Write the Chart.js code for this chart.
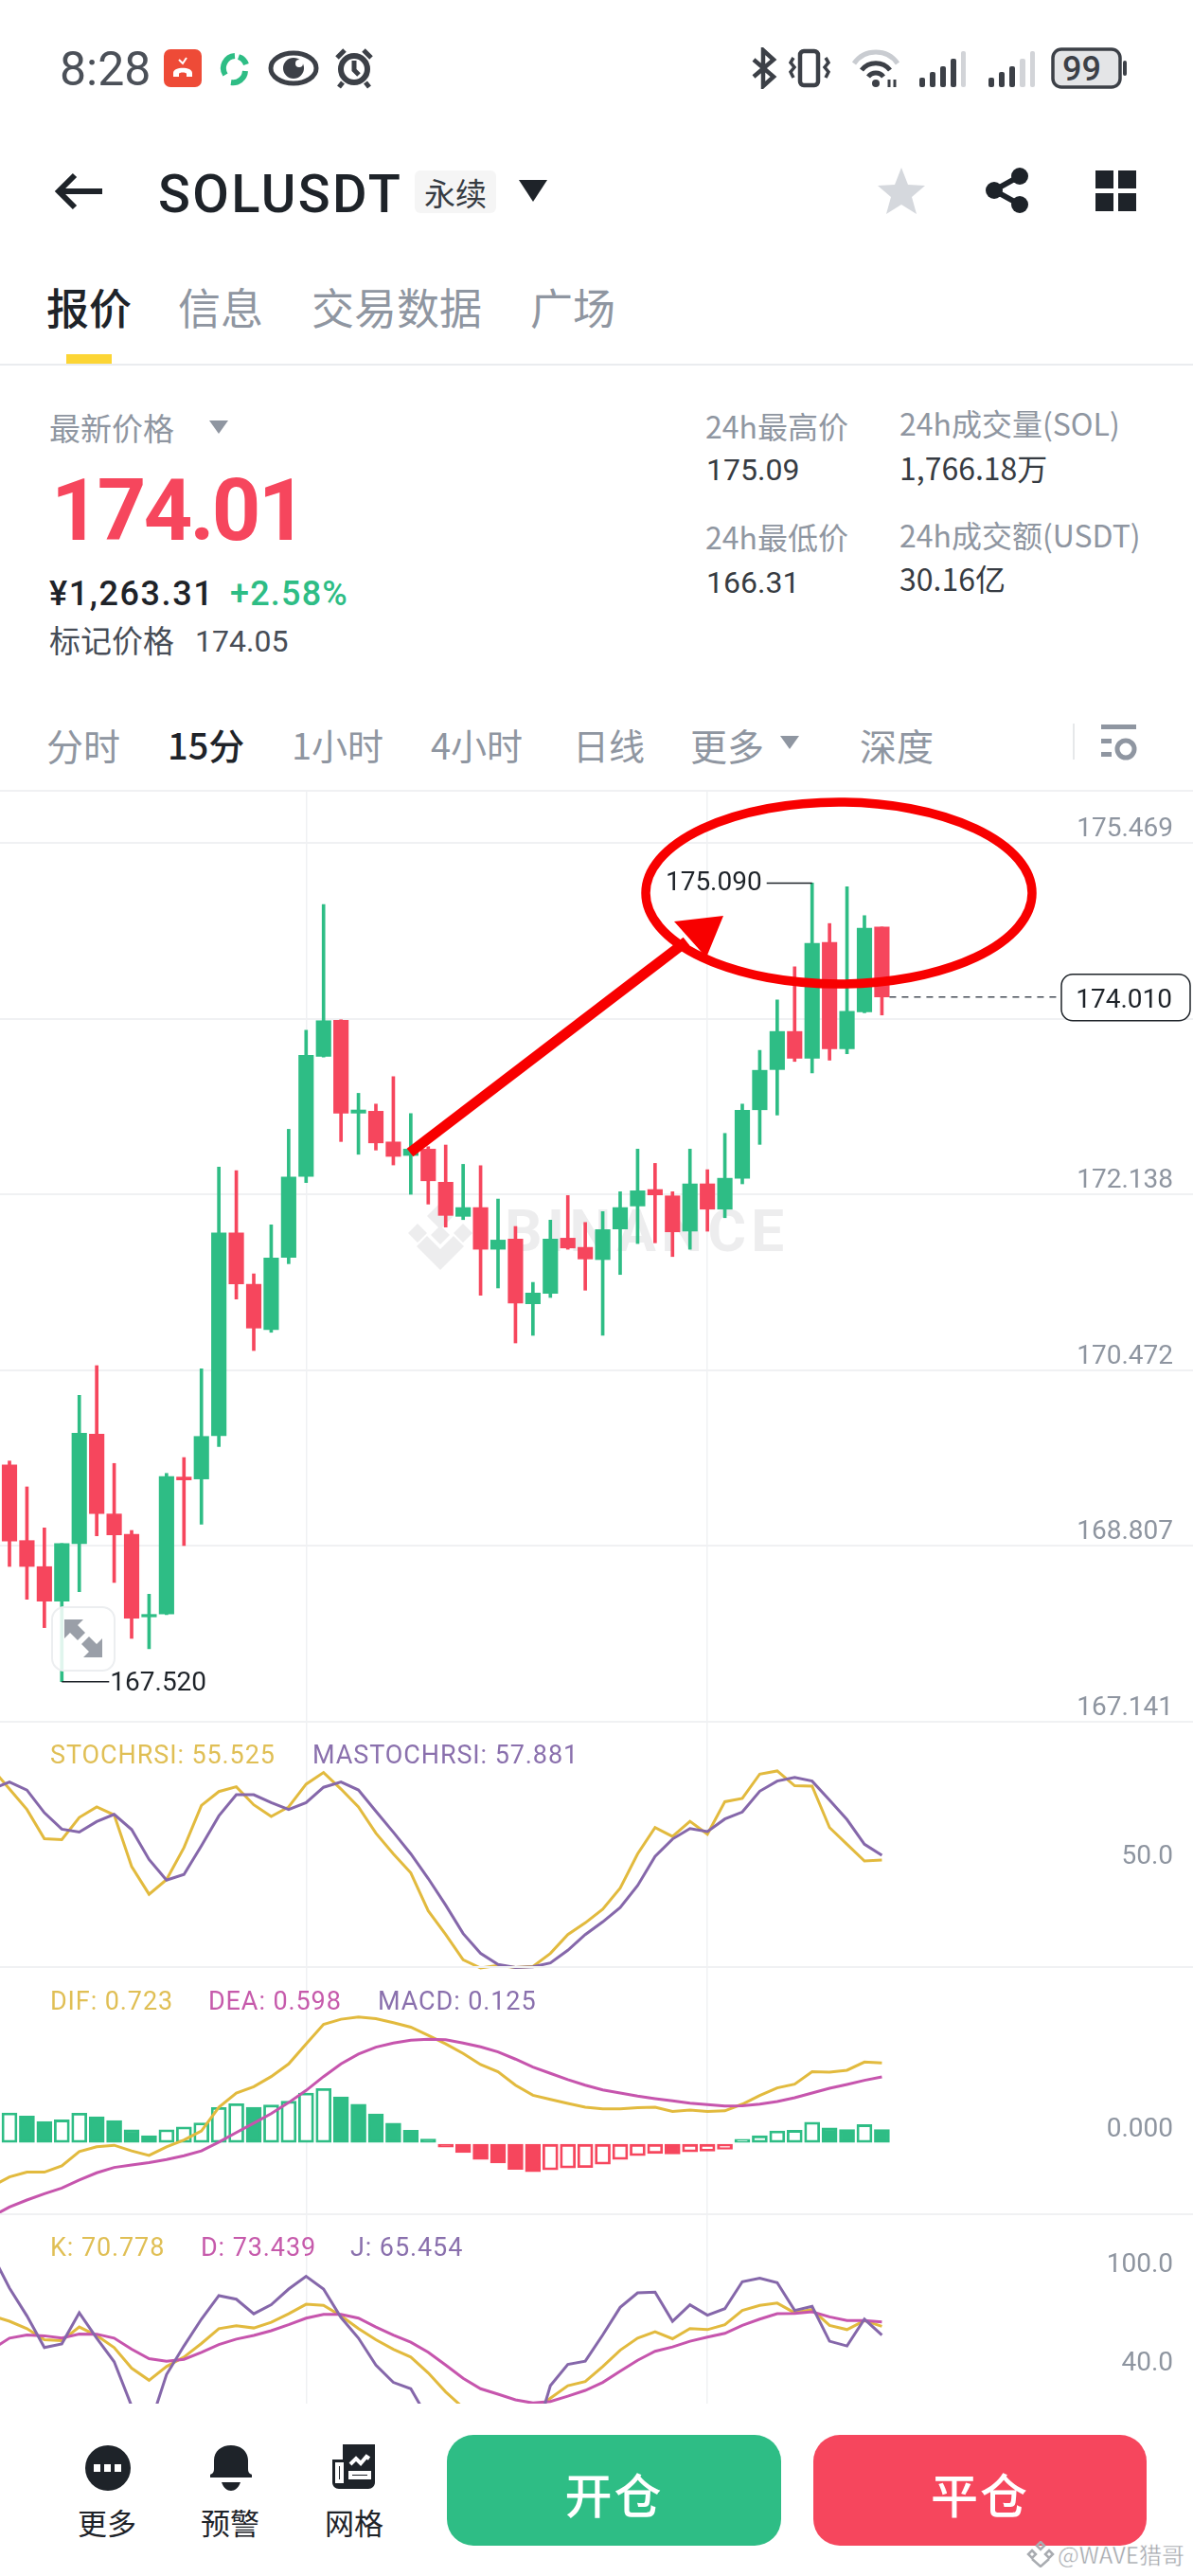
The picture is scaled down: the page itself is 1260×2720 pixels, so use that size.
<!DOCTYPE html>
<html lang="zh-CN">
<head>
<meta charset="utf-8">
<title>SOLUSDT 永续</title>
<script src="https://cdn.jsdelivr.net/npm/chart.js@4/dist/chart.umd.min.js"></script>
<style>
html, body { margin: 0; padding: 0; background: #fff; }
#page { position: relative; width: 1260px; height: 2720px; overflow: hidden; font-family: Roboto, "Noto Sans CJK SC", sans-serif; color: #1e2329; }
.t { position: absolute; white-space: nowrap; line-height: 1; transform: translateY(-50%); }
.cjk { font-family: "Noto Sans CJK SC", Roboto, sans-serif; }
.grey { color: #8f96a1; }
.cap { font-size: 27px; letter-spacing: .9px; }
canvas, svg { position: absolute; display: block; }
.rule { position: absolute; left: 0; width: 1260px; }
.btn { position: absolute; top: 2571px; height: 117px; border-radius: 28px; color: #fff; font-size: 50px; line-height: 122px; text-align: center; font-family: "Noto Sans CJK SC", sans-serif; font-weight: 500; letter-spacing: 2px; }
</style>
</head>
<body>
<div id="page">

  <!-- status bar -->
  <div class="t" style="left:63px;top:73px;font-size:50px;color:#4b5058;font-weight:400">8:28</div>
  <svg style="left:172px;top:50px" width="225" height="44" viewBox="0 0 225 44">
    <rect x="1" y="2" width="40" height="40" rx="7" fill="#ee4b37"/>
    <path d="M11 31v-4c0-7 20-7 20 0v4h-6v-3c0-2-8-2-8 0v3z" fill="#fff"/>
    <path d="M17 13l4 4 4-6" stroke="#fff" stroke-width="2" fill="none"/>
    <path d="M76 9a13 13 0 0 0-10 20M72 37a13 13 0 0 0 15-12M88 18a13 13 0 0 0-8-8" stroke="#2ebd85" stroke-width="6" fill="none"/>
    <ellipse cx="138" cy="22" rx="24" ry="16" fill="none" stroke="#3c4047" stroke-width="5"/>
    <circle cx="138" cy="22" r="11" fill="#3c4047"/><circle cx="144" cy="17" r="4" fill="#fff"/>
    <circle cx="202" cy="23" r="14" fill="none" stroke="#3c4047" stroke-width="6"/>
    <path d="M202 14v10l5 5" stroke="#3c4047" stroke-width="5" fill="none"/>
    <path d="M184 11l8-8M220 11l-8-8M190 37l-4 5M214 37l4 5" stroke="#3c4047" stroke-width="5"/>
  </svg>
  <svg style="left:792px;top:50px" width="400" height="44" viewBox="0 0 400 44">
    <path d="M4 13l21 18-11 10V3l11 10L4 31" fill="none" stroke="#3c4047" stroke-width="4.5"/>
    <rect x="53" y="4" width="19" height="36" rx="4" fill="none" stroke="#3c4047" stroke-width="4.5"/>
    <path d="M46 11l-3 5 4 5-4 5 3 6M80 11l3 5-4 5 4 5-3 6" fill="none" stroke="#3c4047" stroke-width="3.5"/>
    <path d="M110 17a28 28 0 0 1 46 0" fill="none" stroke="#c9ccd1" stroke-width="5"/>
    <path d="M118 24a19 19 0 0 1 30 0" fill="none" stroke="#3c4047" stroke-width="5"/>
    <path d="M125 31a10 10 0 0 1 16 0" fill="none" stroke="#3c4047" stroke-width="5"/>
    <circle cx="133" cy="38" r="4" fill="#3c4047"/>
    <path d="M147 34v8M153 34v8" stroke="#3c4047" stroke-width="3"/>
    <g fill="#3c4047">
      <rect x="179" y="32" width="6" height="10" rx="2"/><rect x="190" y="26" width="6" height="16" rx="2"/><rect x="201" y="20" width="6" height="22" rx="2"/><rect x="212" y="12" width="6" height="30" rx="2"/>
      <rect x="252" y="32" width="6" height="10" rx="2"/><rect x="263" y="26" width="6" height="16" rx="2"/><rect x="274" y="20" width="6" height="22" rx="2"/>
    </g>
    <rect x="223" y="4" width="5" height="38" rx="2" fill="#d2d4d8"/>
    <rect x="285" y="12" width="6" height="30" rx="2" fill="#d2d4d8"/><rect x="296" y="4" width="5" height="38" rx="2" fill="#d2d4d8"/>
    <rect x="320" y="2" width="71" height="40" rx="9" fill="#e4e5e7" stroke="#3c4047" stroke-width="3.5"/>
    <rect x="394" y="14" width="4" height="16" rx="2" fill="#3c4047"/>
  </svg>
  <div class="t" style="left:1122px;top:73px;font-size:36px;font-weight:500;color:#3c4047">99</div>

  <!-- title row -->
  <svg style="left:56px;top:182px" width="54" height="40" viewBox="0 0 54 40">
    <path d="M52 20H8M23 3L6 20l17 17" fill="none" stroke="#1e2329" stroke-width="6"/>
  </svg>
  <div class="t" style="left:167px;top:205px;font-size:56px;font-weight:500;letter-spacing:2.4px">SOLUSDT</div>
  <div style="position:absolute;left:438px;top:180px;width:86px;height:45px;background:#f5f5f5;border-radius:6px"></div>
  <div class="t cjk" style="left:448px;top:203px;font-size:33px;color:#363b42">永续</div>
  <svg style="left:546px;top:188px" width="34" height="26"><path d="M2 2h30L17 25z" fill="#1e2329"/></svg>
  <svg style="left:926px;top:176px" width="52" height="50" viewBox="0 0 52 50">
    <path d="M26 1l7 18 18 1-14 12 5 18-16-10-16 10 5-18L1 20l18-1z" fill="#d5d8dd"/>
  </svg>
  <svg style="left:1038px;top:176px" width="52" height="50" viewBox="0 0 52 50">
    <path d="M39 10L12 25l27 15" fill="none" stroke="#1e2329" stroke-width="6"/>
    <circle cx="39" cy="10" r="9" fill="#1e2329"/><circle cx="12" cy="25" r="9" fill="#1e2329"/><circle cx="39" cy="40" r="9" fill="#1e2329"/>
  </svg>
  <svg style="left:1156px;top:180px" width="46" height="44" viewBox="0 0 46 44" fill="#1e2329">
    <rect x="1" y="0" width="19" height="19"/><rect x="25" y="0" width="19" height="19"/><rect x="1" y="24" width="19" height="19"/><rect x="25" y="24" width="19" height="19"/>
  </svg>

  <!-- tabs -->
  <div class="t cjk" style="left:49px;top:323px;font-size:45px;font-weight:500">报价</div>
  <div class="t cjk grey" style="left:188px;top:323px;font-size:45px">信息</div>
  <div class="t cjk grey" style="left:329px;top:323px;font-size:45px">交易数据</div>
  <div class="t cjk grey" style="left:560px;top:323px;font-size:45px">广场</div>
  <div style="position:absolute;left:70px;top:374px;width:48px;height:10px;background:#fcd535"></div>
  <div class="rule" style="top:384px;height:2px;background:#eaecef"></div>

  <!-- price block -->
  <div class="t cjk grey" style="left:52px;top:451px;font-size:33px">最新价格</div>
  <svg style="left:220px;top:443px" width="22" height="16"><path d="M1 1h20L11 15z" fill="#8f96a1"/></svg>
  <div class="t" style="left:54px;top:540px;font-size:90px;font-weight:700;color:#f6465d;letter-spacing:-2.8px">174.01</div>
  <div class="t" style="left:52px;top:627px;font-size:36px;font-weight:500;letter-spacing:1.6px">¥1,263.31</div>
  <div class="t" style="left:243px;top:627px;font-size:36px;font-weight:500;color:#2ebd85;letter-spacing:1.2px">+2.58%</div>
  <div class="t cjk" style="left:52px;top:675px;font-size:33px;color:#474d57">标记价格</div>
  <div class="t" style="left:206px;top:677px;font-size:32px;color:#474d57">174.05</div>

  <div class="t cjk grey" style="left:745px;top:449px;font-size:32px">24h最高价</div>
  <div class="t" style="left:746px;top:496px;font-size:32px;color:#363b42">175.09</div>
  <div class="t cjk grey" style="left:745px;top:566px;font-size:32px">24h最低价</div>
  <div class="t" style="left:746px;top:615px;font-size:32px;color:#363b42">166.31</div>
  <div class="t cjk grey" style="left:950px;top:446px;font-size:32px">24h成交量(SOL)</div>
  <div class="t cjk" style="left:950px;top:493px;font-size:32px;color:#363b42">1,766.18万</div>
  <div class="t cjk grey" style="left:950px;top:564px;font-size:32px">24h成交额(USDT)</div>
  <div class="t cjk" style="left:950px;top:610px;font-size:32px;color:#363b42">30.16亿</div>

  <!-- interval row -->
  <div class="t cjk grey" style="left:49px;top:786px;font-size:39px">分时</div>
  <div class="t cjk" style="left:177px;top:786px;font-size:38px;font-weight:500">15分</div>
  <div class="t cjk grey" style="left:308px;top:786px;font-size:38px">1小时</div>
  <div class="t cjk grey" style="left:455px;top:786px;font-size:38px">4小时</div>
  <div class="t cjk grey" style="left:605px;top:786px;font-size:38px">日线</div>
  <div class="t cjk grey" style="left:729px;top:786px;font-size:39px">更多</div>
  <svg style="left:823px;top:776px" width="22" height="16"><path d="M1 1h20L11 15z" fill="#8f96a1"/></svg>
  <div class="t cjk grey" style="left:908px;top:786px;font-size:39px">深度</div>
  <div style="position:absolute;left:1133px;top:764px;width:2px;height:38px;background:#e6e8ea"></div>
  <svg style="left:1162px;top:764px" width="40" height="40" viewBox="0 0 40 40" fill="#8f96a1">
    <rect x="1" y="1" width="37" height="5"/><rect x="1" y="16" width="11" height="5"/><rect x="1" y="30" width="11" height="5"/>
    <circle cx="27" cy="27" r="9" fill="none" stroke="#8f96a1" stroke-width="5"/>
  </svg>

  <!-- watermark under the candles -->
  <svg style="left:426px;top:1270px" width="78" height="72" viewBox="0 0 78 72" fill="#ededee">
    <path d="M39 0l14 14-14 14-14-14zM15 22l10 10-10 10L5 32zM63 22l10 10-10 10-10-10zM39 24l10 10-10 10-10-10zM2 36"/>
    <path d="M14 46l11-11 14 14 14-14 11 11-25 25z"/>
  </svg>
  <div class="t" style="left:533px;top:1300px;font-size:62px;font-weight:700;color:#ededee;letter-spacing:5.4px">BINANCE</div>

  <canvas id="priceChart" width="1260" height="987" style="left:0;top:833px;width:1260px;height:987px"></canvas>
  <canvas id="stochChart" width="1260" height="264" style="left:0;top:1816px;width:1260px;height:264px"></canvas>
  <canvas id="macdChart" width="1260" height="265" style="left:0;top:2075px;width:1260px;height:265px"></canvas>
  <canvas id="kdjChart" width="1260" height="204" style="left:0;top:2336px;width:1260px;height:204px"></canvas>

  <!-- hand-drawn red marks on top of the screenshot -->
  <svg style="left:0;top:0" width="1260" height="1300" viewBox="0 0 1260 1300">
    <path d="M433 1217L725 994" stroke="#f80000" stroke-width="11" fill="none"/>
    <path d="M764 967L712 973L746 1011z" fill="#f80000"/>
    <ellipse cx="886" cy="943" rx="204" ry="96" fill="none" stroke="#f80000" stroke-width="9.5"/>
  </svg>

  <!-- expand button -->
  <div style="position:absolute;left:54px;top:1696px;width:64px;height:65px;border:2px solid #eceef0;border-radius:14px;background:rgba(255,255,255,.85)"></div>
  <svg style="left:66px;top:1708px" width="44" height="44" viewBox="0 0 44 44" fill="#9a9fa8">
    <path d="M2 2h20l-6 6 8 8-8 8-8-8-6 6zM42 42H22l6-6-8-8 8-8 8 8 6-6z"/>
  </svg>

  <!-- indicator captions -->
  <div class="t cap" style="left:53px;top:1853px;color:#e0bf55">STOCHRSI: 55.525</div>
  <div class="t cap" style="left:330px;top:1853px;color:#8a70ad">MASTOCHRSI: 57.881</div>
  <div class="t cap" style="left:53px;top:2113px;color:#e0bf55">DIF: 0.723</div>
  <div class="t cap" style="left:220px;top:2113px;color:#c65aab">DEA: 0.598</div>
  <div class="t cap" style="left:399px;top:2113px;color:#8a70ad">MACD: 0.125</div>
  <div class="t cap" style="left:53px;top:2373px;color:#e0bf55">K: 70.778</div>
  <div class="t cap" style="left:212px;top:2373px;color:#c65aab">D: 73.439</div>
  <div class="t cap" style="left:370px;top:2373px;color:#8a70ad">J: 65.454</div>

  <!-- bottom bar -->
  <svg style="left:88px;top:2581px" width="52" height="50" viewBox="0 0 52 50">
    <circle cx="26" cy="25" r="24" fill="#1e2329"/>
    <rect x="11" y="21" width="7" height="8" fill="#fff"/><rect x="22" y="21" width="7" height="8" fill="#fff"/><rect x="33" y="21" width="7" height="8" fill="#fff"/>
  </svg>
  <svg style="left:220px;top:2581px" width="48" height="50" viewBox="0 0 48 50" fill="#1e2329">
    <path d="M2 35v-3c2-1 4-2 4-6V17C6 7 14 1 24 1s18 6 18 16v9c0 4 2 5 4 6v3zM14 40h20c-2 6-6 9-10 9s-8-3-10-9z"/>
  </svg>
  <svg style="left:350px;top:2581px" width="47" height="48" viewBox="0 0 47 48">
    <path d="M12 0h34v40c0 4-3 7-7 7H8c-4 0-7-3-7-7V16h11z" fill="#1e2329"/>
    <path d="M20 21l6-6 5 5 6-7 3 2M20 30h20v5H20zM6 21h5v18H6z" fill="none" stroke="#fff" stroke-width="4"/>
  </svg>
  <div class="t cjk" style="left:82px;top:2662px;font-size:31px">更多</div>
  <div class="t cjk" style="left:212px;top:2662px;font-size:31px">预警</div>
  <div class="t cjk" style="left:343px;top:2662px;font-size:31px">网格</div>
  <div class="btn" style="left:472px;width:353px;background:#2ebd85">开仓</div>
  <div class="btn" style="left:859px;width:352px;background:#f6465d">平仓</div>
  <svg style="left:1084px;top:2683px" width="30" height="28" viewBox="0 0 30 28" fill="none" stroke="#a9acb1" stroke-width="2.5">
    <path d="M15 1l4 4-4 4-4-4zM6 10l4 4-4 4-4-4zM24 10l4 4-4 4-4-4zM6 19l9 8 9-8"/>
  </svg>
  <div class="t cjk" style="left:1117px;top:2697px;font-size:24px;color:#a3a6ab;-webkit-text-stroke:.4px #fff">@WAVE猎哥</div>
</div>

<script>
// Candles, index 0 is the first one on screen
const opens = [169.576, 168.858, 168.611, 168.284, 168.829, 169.867, 169.110, 168.918, 168.135, 168.162, 169.460, 169.442, 169.852, 171.775, 171.287, 170.857, 171.541, 172.310, 173.447, 173.788, 172.909, 172.927, 172.636, 172.508, 172.568, 172.254, 171.931, 172.014, 171.619, 171.715, 171.102, 171.200, 171.724, 171.637, 171.521, 171.811, 172.029, 172.185, 172.125, 171.790, 172.239, 171.999, 172.292, 172.941, 173.322, 173.683, 173.429, 174.527, 173.519, 173.869, 174.673];
const closes = [168.853, 168.613, 168.284, 168.829, 169.876, 169.113, 168.912, 168.123, 168.158, 169.466, 169.433, 169.845, 171.775, 171.290, 170.872, 171.536, 172.304, 173.456, 173.785, 172.909, 172.939, 172.627, 172.499, 172.568, 172.268, 171.940, 172.014, 171.619, 171.706, 171.108, 171.204, 171.715, 171.631, 171.527, 171.805, 172.014, 172.173, 172.134, 171.784, 172.239, 171.999, 172.292, 172.936, 173.315, 173.683, 173.429, 174.518, 173.519, 173.874, 174.661, 174.010];
const highs = [169.612, 169.367, 168.978, 168.829, 170.235, 170.516, 169.589, 168.954, 168.350, 169.495, 169.645, 170.486, 172.397, 172.364, 171.386, 171.850, 172.756, 173.695, 174.886, 173.794, 173.097, 172.995, 173.255, 172.905, 172.591, 172.607, 172.424, 172.412, 172.095, 171.835, 171.305, 171.895, 172.128, 171.873, 171.976, 172.164, 172.568, 172.433, 172.164, 172.568, 172.373, 172.717, 172.995, 173.504, 173.982, 174.296, 175.090, 174.706, 175.054, 174.781, 174.673];
const lows = [168.613, 168.302, 168.033, 167.520, 168.374, 168.903, 168.461, 167.931, 167.833, 168.156, 168.811, 169.014, 169.750, 171.147, 170.659, 170.832, 171.482, 172.250, 173.441, 172.640, 172.519, 172.559, 172.418, 172.140, 172.047, 171.829, 171.900, 171.182, 171.252, 170.731, 170.803, 171.162, 171.619, 171.231, 170.803, 171.380, 171.673, 171.680, 171.550, 171.619, 171.790, 171.918, 172.239, 172.613, 172.891, 173.399, 173.291, 173.411, 173.471, 173.860, 173.839];
const priceTicks = [175.964, 175.469, 173.803, 172.138, 170.472, 168.807, 167.141];
const timeTicks = [17, 40];

// Indicator lines start one candle left of the screen (index -1)
const stochRsi = [102.6, 92.0, 81.5, 66.5, 66.0, 77.4, 82.8, 78.7, 52.2, 37.9, 45.4, 61.9, 83.6, 90.7, 93.2, 83.9, 77.9, 82.8, 94.5, 100.5, 92.0, 82.8, 69.3, 58.7, 48.9, 29.4, 17.2, 4.2, 0, 1.3, 0.2, 0.8, 7.5, 17.2, 23.2, 30.2, 41.1, 58.7, 72.2, 67.6, 75.4, 68.8, 85.5, 87.2, 99.7, 101.3, 93.7, 93.5, 72.2, 63.6, 55.0, 55.5];
const maStochRsi = [92.0, 95.6, 91.5, 79.8, 71.4, 69.9, 75.3, 79.0, 71.2, 55.8, 45.2, 48.1, 62.8, 78.2, 89.1, 89.1, 85.0, 81.5, 85.0, 92.9, 95.6, 91.5, 80.6, 69.8, 58.7, 46.0, 32.3, 17.7, 7.5, 1.8, 0.2, 0.6, 2.6, 9.1, 17.2, 23.7, 31.1, 42.4, 57.4, 66.3, 71.7, 70.1, 76.6, 80.2, 90.9, 96.1, 98.0, 96.1, 86.3, 76.3, 63.6, 57.9];
const stochTicks = [126.6, 50];

const macdHist = [0.274, 0.245, 0.197, 0.211, 0.271, 0.239, 0.205, 0.123, 0.068, 0.123, 0.148, 0.185, 0.322, 0.356, 0.325, 0.345, 0.379, 0.453, 0.493, 0.419, 0.353, 0.265, 0.182, 0.117, 0.040, -0.034, -0.083, -0.145, -0.177, -0.234, -0.256, -0.239, -0.222, -0.217, -0.188, -0.145, -0.111, -0.091, -0.097, -0.077, -0.071, -0.054, 0.037, 0.068, 0.111, 0.117, 0.191, 0.140, 0.125, 0.168, 0.125];
const dif = [-0.387, -0.302, -0.259, -0.259, -0.202, -0.074, -0.031, -0.017, -0.068, -0.108, -0.031, 0.031, 0.111, 0.325, 0.453, 0.510, 0.601, 0.715, 0.895, 1.071, 1.117, 1.137, 1.123, 1.086, 1.046, 0.972, 0.895, 0.809, 0.709, 0.644, 0.524, 0.433, 0.396, 0.359, 0.325, 0.311, 0.311, 0.322, 0.325, 0.288, 0.299, 0.288, 0.293, 0.353, 0.430, 0.499, 0.533, 0.644, 0.641, 0.658, 0.732, 0.723];
const dea = [-0.658, -0.573, -0.510, -0.453, -0.402, -0.331, -0.265, -0.217, -0.194, -0.174, -0.145, -0.111, -0.068, 0.011, 0.097, 0.182, 0.268, 0.367, 0.476, 0.601, 0.715, 0.803, 0.866, 0.903, 0.929, 0.937, 0.932, 0.903, 0.869, 0.823, 0.758, 0.687, 0.630, 0.573, 0.524, 0.481, 0.453, 0.425, 0.402, 0.382, 0.362, 0.348, 0.336, 0.339, 0.353, 0.376, 0.410, 0.453, 0.496, 0.530, 0.567, 0.598];
const macdTicks = [1.587, 0];

const kLine = [77.2, 73.9, 69.4, 62.6, 62.1, 70.4, 65.2, 57.8, 45.2, 37.8, 46.2, 52.0, 60.3, 69.4, 71.2, 69.8, 73.3, 78.5, 84.3, 83.6, 77.2, 69.4, 62.6, 56.8, 52.0, 42.3, 30.7, 21.0, 14.2, 10.3, 12.2, 18.1, 26.8, 34.5, 37.0, 46.2, 56.2, 63.6, 67.5, 63.2, 69.4, 68.8, 71.8, 80.5, 83.6, 85.0, 79.1, 81.1, 71.4, 68.8, 74.3, 70.778];
const dLine = [56.8, 63.6, 65.5, 65.0, 63.6, 66.1, 66.0, 63.6, 56.8, 51.0, 49.5, 50.6, 54.9, 59.7, 63.0, 65.2, 68.1, 71.8, 75.8, 78.1, 78.1, 75.8, 70.4, 65.5, 61.1, 54.9, 47.1, 39.0, 32.6, 29.3, 25.8, 23.9, 24.8, 28.1, 31.6, 36.5, 43.3, 50.0, 55.5, 58.2, 61.7, 64.2, 66.5, 71.4, 75.2, 78.5, 78.7, 79.7, 76.6, 74.3, 74.3, 73.439];
const jLine = [115.0, 94.2, 77.2, 57.8, 60.1, 79.1, 63.6, 49.1, 22.0, 8.4, 41.3, 58.8, 75.2, 89.6, 87.4, 78.5, 84.0, 93.6, 101.4, 93.6, 76.2, 63.6, 47.1, 36.5, 32.6, 14.2, -5.2, -20.7, -24.6, -26.5, -24.6, -1.3, 34.5, 47.5, 49.5, 65.5, 82.4, 91.3, 91.7, 73.9, 84.0, 77.6, 81.6, 98.1, 100.2, 97.5, 80.5, 83.0, 61.7, 58.8, 75.2, 65.454];
const kdjTicks = [139.4, 100, 40];

const GREEN = '#2ebd85';
const RED = '#f6465d';
const GOLD = '#e2ba3e';
const PURPLE = '#8567aa';
const MAGENTA = '#c655ad';
const GRID = '#f0f1f3';
const PAD = 2;  // room for the edge grid lines inside each canvas

function toPoints(values, firstIndex) {
    return values.map((value, i) => ({ x: i + firstIndex, y: value }));
}

function lineSet(values, color, order) {
    return {
        type: 'line',
        data: toPoints(values, -1),
        borderColor: color,
        borderWidth: 3,
        pointRadius: 0,
        tension: 0,
        order: order
    };
}

// Same x scale in all four panels, so the candles line up with the indicators
function timeAxis() {
    return {
        type: 'linear',
        min: -0.543,
        max: 67.83,
        offset: false,
        border: { display: false },
        grid: { color: GRID, lineWidth: 1.5, drawTicks: false, offset: false },
        ticks: { display: false, autoSkip: false },
        afterBuildTicks: scale => { scale.ticks = timeTicks.map(value => ({ value })); }
    };
}

function valueAxis(min, max, tickValues, gridValues, format) {
    return {
        type: 'linear',
        position: 'right',
        min: min,
        max: max,
        border: { display: false },
        grid: {
            drawTicks: false,
            lineWidth: 2,
            color: ctx => (ctx.tick && gridValues.includes(ctx.tick.value) ? GRID : 'transparent')
        },
        ticks: {
            mirror: true,
            padding: -21,
            align: 'end',
            autoSkip: false,
            color: '#8e95a0',
            font: { family: 'Roboto', size: 28 },
            callback: format
        },
        afterBuildTicks: scale => { scale.ticks = tickValues.map(value => ({ value })); },
        // labels sit inside the plot, the axis itself must take no room
        afterFit: scale => {
            scale.width = 0;
            scale.paddingTop = 0;
            scale.paddingBottom = 0;
        }
    };
}

function createPanel(id, datasets, yAxis, plugins) {
    return new Chart(document.getElementById(id), {
        type: 'bar',
        data: { datasets: datasets },
        options: {
            responsive: false,
            animation: false,
            events: [],
            layout: { padding: { top: PAD, bottom: PAD, left: 0, right: 0 } },
            plugins: { legend: { display: false }, tooltip: { enabled: false } },
            scales: { x: timeAxis(), y: yAxis }
        },
        plugins: plugins || []
    });
}

// Markers on the price chart: highest and lowest wick, and the last price line
const priceMarkers = {
    id: 'priceMarkers',
    afterDatasetsDraw(chart) {
        const { ctx, scales: { x, y } } = chart;
        const high = Math.max(...highs);
        const low = Math.min(...lows);
        const last = closes[closes.length - 1];
        const highX = x.getPixelForValue(highs.indexOf(high));
        const lowX = x.getPixelForValue(lows.indexOf(low));
        const lastX = x.getPixelForValue(closes.length - 1);
        const lastY = y.getPixelForValue(last);

        ctx.save();
        ctx.strokeStyle = '#1e2329';
        ctx.fillStyle = '#1e2329';
        ctx.lineWidth = 1.5;
        ctx.font = '28px Roboto';
        ctx.textBaseline = 'middle';

        ctx.beginPath();
        ctx.moveTo(highX, y.getPixelForValue(high));
        ctx.lineTo(highX - 48, y.getPixelForValue(high));
        ctx.moveTo(lowX, y.getPixelForValue(low));
        ctx.lineTo(lowX + 50, y.getPixelForValue(low));
        ctx.stroke();

        ctx.textAlign = 'right';
        ctx.fillText(high.toFixed(3), highX - 53, y.getPixelForValue(high) + 1);
        ctx.textAlign = 'left';
        ctx.fillText(low.toFixed(3), lowX + 51, y.getPixelForValue(low) + 2);

        ctx.setLineDash([7, 6]);
        ctx.strokeStyle = '#474d57';
        ctx.beginPath();
        ctx.moveTo(lastX + 8, lastY);
        ctx.lineTo(1117, lastY);
        ctx.stroke();
        ctx.setLineDash([]);

        ctx.fillStyle = '#fff';
        ctx.strokeStyle = '#1e2329';
        ctx.beginPath();
        ctx.roundRect(1121, lastY - 24, 136, 49, 12);
        ctx.fill();
        ctx.stroke();
        ctx.fillStyle = '#1e2329';
        ctx.textAlign = 'right';
        ctx.fillText(last.toFixed(3), 1238, lastY + 4);
        ctx.restore();
    }
};

function createPriceChart() {
    const candleColor = ctx => (closes[ctx.dataIndex] >= opens[ctx.dataIndex] ? GREEN : RED);
    const bodies = opens.map((open, i) => [open, closes[i]]);
    const wicks = lows.map((low, i) => [low, highs[i]]);
    createPanel('priceChart', [
        {
            data: toPoints(bodies, 0),
            backgroundColor: candleColor,
            barThickness: 15.5,
            grouped: false,
            order: 1
        },
        {
            data: toPoints(wicks, 0),
            backgroundColor: candleColor,
            barThickness: 3,
            grouped: false,
            order: 2
        }
    ], valueAxis(167.141, 175.964, priceTicks, priceTicks,
        // the 173.803 label sits under the last price box
        value => (value === 175.964 || value === 173.803 ? '' : value.toFixed(3))), [priceMarkers]);
}

function createStochChart() {
    createPanel('stochChart', [
        lineSet(maStochRsi, PURPLE, 1),
        lineSet(stochRsi, GOLD, 2)
    ].map(set => ({ ...set, clip: false })),
    valueAxis(0, 126.6, stochTicks, [126.6], value => (value === 50 ? '50.0' : '')));
}

function createMacdChart() {
    const isRising = i => i === 0 || macdHist[i] > macdHist[i - 1];
    createPanel('macdChart', [
        lineSet(dea, MAGENTA, 1),
        lineSet(dif, GOLD, 2),
        {
            data: toPoints(macdHist, 0),
            backgroundColor: ctx => (isRising(ctx.dataIndex) ? '#fff' : (macdHist[ctx.dataIndex] >= 0 ? GREEN : RED)),
            borderColor: ctx => (macdHist[ctx.dataIndex] >= 0 ? GREEN : RED),
            borderWidth: 2.8,
            borderSkipped: false,
            barThickness: 16,
            order: 3
        }
    ], valueAxis(-0.638, 1.587, macdTicks, [1.587], value => (value === 0 ? '0.000' : '')));
}

function createKdjChart() {
    createPanel('kdjChart', [
        lineSet(jLine, PURPLE, 1),
        lineSet(dLine, MAGENTA, 2),
        lineSet(kLine, GOLD, 3)
    ], valueAxis(23.5, 139.4, kdjTicks, [139.4], value => (value === 139.4 ? '' : value.toFixed(1))));
}

createPriceChart();
createStochChart();
createMacdChart();
createKdjChart();
</script>
</body>
</html>
